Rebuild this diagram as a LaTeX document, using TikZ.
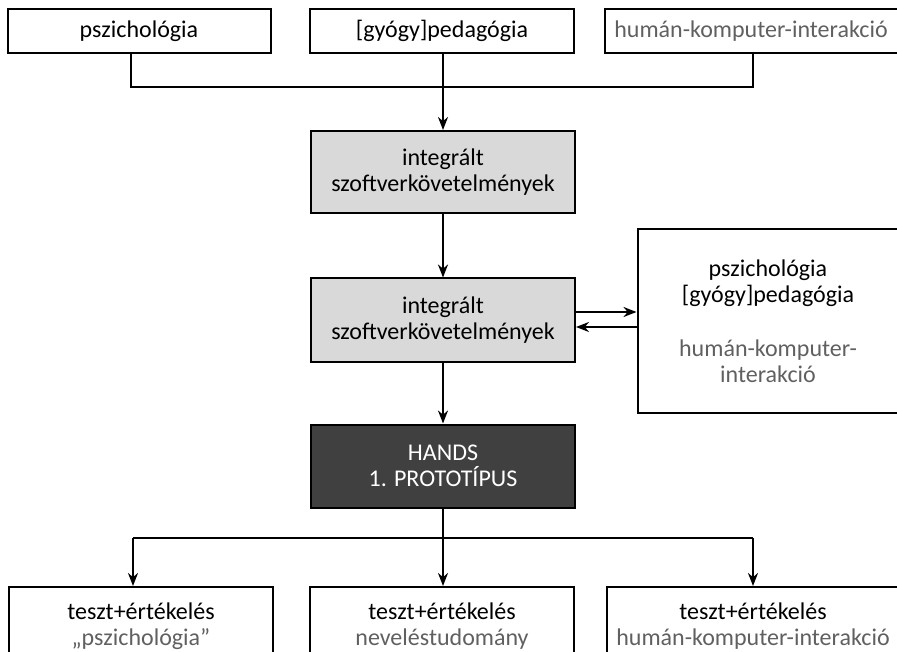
\documentclass[tikz,border=0pt]{standalone}
\usepackage{fontspec}
\setmainfont{Carlito}
\usepackage{tikz}
\usetikzlibrary{arrows.meta}

\definecolor{lightbox}{HTML}{D9D9D9}
\definecolor{darkbox}{HTML}{404040}
\definecolor{greytext}{HTML}{606060}

\begin{document}
\begin{tikzpicture}[x=1pt,y=-1pt,
    box/.style={draw,line width=2pt,align=center,inner sep=0pt,
      font=\fontsize{24}{26}\selectfont},
    req/.style={box,fill=lightbox,minimum width=264pt,minimum height=82pt},
    arr/.style={line width=2pt,-{Stealth[length=13pt,width=10pt]}},
    ln/.style={line width=2pt}]
   \useasboundingbox (0,0) rectangle (897,652);
   \clip (0,0) rectangle (897,652);
   % top row
   \node (p1) at (139,31) [box,minimum width=263pt,minimum height=44pt] {pszichológia};
   \node (p2) at (442,31) [box,minimum width=264pt,minimum height=44pt] {[gyógy]pedagógia};
   \node (p3) at (751,31) [box,minimum width=293pt,minimum height=44pt,text=greytext] {humán-komputer-interakció};
   % requirements
   \node (req1) at (443,172) [req] {integrált\\szoftverkövetelmények};
   \node (req2) at (443,320) [req,minimum height=83pt] {integrált\\szoftverkövetelmények};
   \node (side) at (768,321) [box,minimum width=261pt,minimum height=184pt]
      {pszichológia\\{[gyógy]pedagógia}\\[28pt]\textcolor{greytext}{humán-komputer-}\\\textcolor{greytext}{interakció}};
   % prototype
   \node (proto) at (443,466) [box,fill=darkbox,text=white,minimum width=264pt,minimum height=83pt] {HANDS\\1. PROTOTÍPUS};
   % tests
   \node (t1) at (141,626) [box,minimum width=264pt,minimum height=78pt] {teszt+értékelés\\\textcolor{greytext}{„pszichológia”}};
   \node (t2) at (442,626) [box,minimum width=264pt,minimum height=78pt] {teszt+értékelés\\\textcolor{greytext}{neveléstudomány}};
   \node (t3) at (753,626) [box,minimum width=292pt,minimum height=78pt] {teszt+értékelés\\\textcolor{greytext}{humán-komputer-interakció}};

   % connectors top
   \coordinate (jl) at (131,87);
   \coordinate (jr) at (753,87);
   \draw[ln] (p1.south -| jl) -- (jl) -- (jr) -- (p3.south -| jr);
   \draw[arr] (p2.south -| req1.north) -- (req1.north);
   \draw[arr] (req1) -- (req2);
   \draw[arr] ([yshift=8pt]req2.east) -- ([yshift=8pt]req2.east -| side.west);
   \draw[arr] ([yshift=-7pt]req2.east -| side.west) -- ([yshift=-7pt]req2.east);
   \draw[arr] (req2) -- (proto);
   % connectors bottom
   \coordinate (bl) at (133,538);
   \coordinate (br) at (753,538);
   \draw[ln] (bl) -- (br);
   \draw[arr] (proto.south) -- (proto.south |- t2.north);
   \draw[arr] (bl) -- (bl |- t1.north);
   \draw[arr] (br) -- (br |- t3.north);
\end{tikzpicture}
\end{document}
